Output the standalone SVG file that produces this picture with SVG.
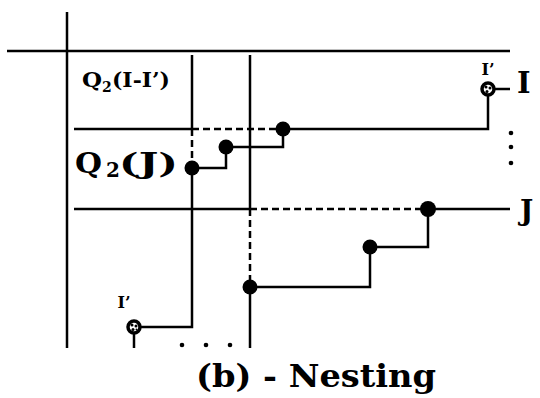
<svg xmlns="http://www.w3.org/2000/svg" width="540" height="398" viewBox="0 0 540 398">
<style>
.ln{stroke:#000;stroke-width:2.5;fill:none;stroke-linecap:butt}
.ds{stroke:#000;stroke-width:2.5;fill:none;stroke-dasharray:7 4}
.dot{fill:#000}
.ring{fill:#fff;stroke:#000;stroke-width:3.5}
.t{font-family:"DejaVu Serif","Liberation Serif",serif;font-weight:bold;fill:#000}
</style>
<rect width="540" height="398" fill="#fff"/>
<g id="connectors">
<line class="ln" x1="67" y1="12" x2="67" y2="348"/>
<line class="ln" x1="7" y1="51" x2="510" y2="51"/>
<line class="ln" x1="192" y1="55" x2="192" y2="129"/>
<line class="ln" x1="74" y1="129" x2="192" y2="129"/>
<line class="ds" x1="192" y1="129" x2="283" y2="129"/>
<line class="ds" x1="192" y1="129" x2="192" y2="168"/>
<polyline class="ln" points="192,168 192,327 134,327"/>
<line class="ln" x1="134" y1="334" x2="134" y2="348"/>
<line class="ln" x1="250" y1="55" x2="250" y2="209"/>
<line class="ln" x1="74" y1="209" x2="250" y2="209"/>
<line class="ds" x1="250" y1="209" x2="428" y2="209"/>
<line class="ds" x1="250" y1="209" x2="250" y2="287"/>
<line class="ln" x1="250" y1="287" x2="250" y2="348"/>
<line class="ln" x1="428" y1="209" x2="510" y2="209"/>
<polyline class="ln" points="192,168 226,168 226,147"/>
<polyline class="ln" points="226,147 283,147 283,129"/>
<polyline class="ln" points="283,129 488,129 488,96"/>
<line class="ln" x1="495" y1="89" x2="510" y2="89"/>
<polyline class="ln" points="250,287 370,287 370,247"/>
<polyline class="ln" points="370,247 428,247 428,209"/>
</g>
<g id="n1"><circle class="dot" cx="192" cy="168" r="7.5"/></g>
<g id="n2"><circle class="dot" cx="226" cy="147" r="7.5"/></g>
<g id="n3"><circle class="dot" cx="283" cy="129" r="7.5"/></g>
<g id="n4"><circle class="dot" cx="250" cy="287" r="7.5"/></g>
<g id="n5"><circle class="dot" cx="370" cy="247" r="7.5"/></g>
<g id="n6"><circle class="dot" cx="428" cy="209" r="8"/></g>
<g id="ring-top">
<circle class="ring" cx="488" cy="89" r="6"/>
<circle class="dot" cx="486" cy="87" r="1.5"/><circle class="dot" cx="490" cy="88" r="1.5"/><circle class="dot" cx="487" cy="91.5" r="1.5"/>
<text class="t" x="488" y="75" font-size="16" text-anchor="middle">I’</text>
</g>
<g id="ring-bottom">
<circle class="ring" cx="134" cy="327" r="6"/>
<circle class="dot" cx="132" cy="325" r="1.5"/><circle class="dot" cx="136" cy="326" r="1.5"/><circle class="dot" cx="133" cy="329.5" r="1.5"/><circle class="dot" cx="136.5" cy="329.5" r="1"/>
<text class="t" x="124" y="308" font-size="16" text-anchor="middle">I’</text>
</g>
<g id="dots-right"><circle class="dot" cx="511" cy="133" r="2.3"/><circle class="dot" cx="511" cy="147" r="2.3"/><circle class="dot" cx="511" cy="163" r="2.3"/></g>
<g id="dots-bottom"><circle class="dot" cx="182" cy="345" r="2.3"/><circle class="dot" cx="206" cy="345" r="2.3"/><circle class="dot" cx="230" cy="345" r="2.3"/></g>
<g id="labels">
<text class="t" x="82" y="87" font-size="20" textLength="20" lengthAdjust="spacingAndGlyphs">Q</text>
<text class="t" x="102" y="92" font-size="14">2</text>
<text class="t" x="112" y="87" font-size="20" textLength="58" lengthAdjust="spacingAndGlyphs">(I-I’)</text>
<text class="t" x="75" y="173" font-size="28" textLength="27" lengthAdjust="spacingAndGlyphs">Q</text>
<text class="t" x="106" y="177" font-size="20">2</text>
<text class="t" x="119" y="173" font-size="28" textLength="59" lengthAdjust="spacingAndGlyphs">(J)</text>
<text class="t" x="517" y="93" font-size="29">I</text>
<text class="t" x="520" y="220" font-size="28">J</text>
<text class="t" x="196" y="387" font-size="31" textLength="240" lengthAdjust="spacingAndGlyphs">(b) - Nesting</text>
</g>
</svg>
